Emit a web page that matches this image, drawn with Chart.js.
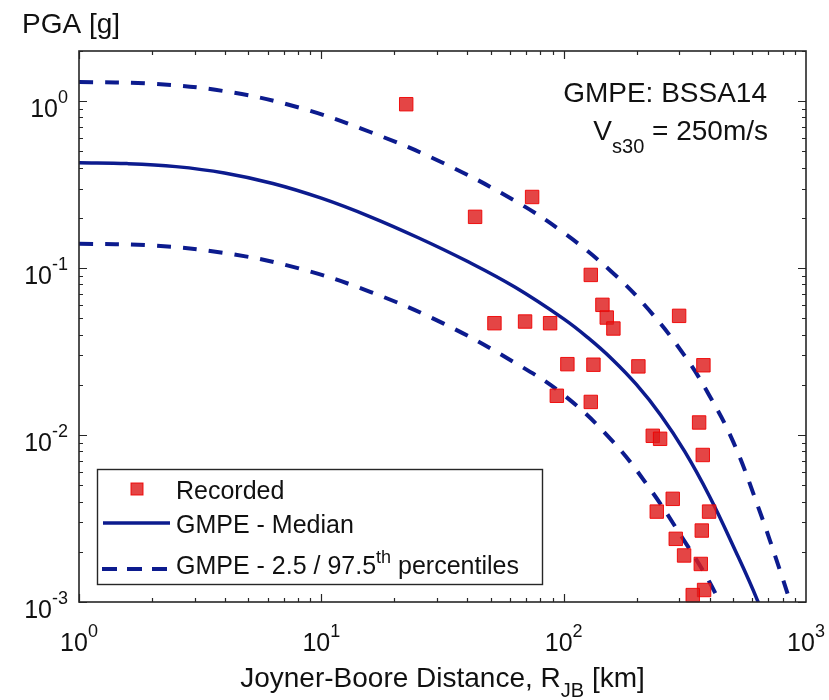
<!DOCTYPE html>
<html>
<head>
<meta charset="utf-8">
<script src="https://cdn.jsdelivr.net/npm/chart.js@4.4.1/dist/chart.umd.min.js"></script>
<style>
  html, body { margin: 0; padding: 0; background: #ffffff; }
  #wrap { width: 829px; height: 700px; }
</style>
</head>
<body>
<div id="wrap"><canvas id="chart" width="829" height="700"></canvas></div>
<script>
// ---------------- DATA ----------------
const recordedDistance = [22.4, 74.1, 43.1, 51.8, 69.3, 87.9, 103.6, 93.7, 129.4, 144.5,
  150.6, 160.4, 299.5, 132.7, 203.4, 377.3, 129.4, 362.2, 233.2, 250,
  375, 281.9, 242.2, 398.2, 371.5, 290.1, 314, 368, 379.7, 340.9];
const recordedPGA = [0.96, 0.267, 0.203, 0.0468, 0.0479, 0.0468, 0.0266, 0.0172, 0.0911, 0.0603,
  0.0506, 0.0435, 0.0518, 0.0264, 0.0258, 0.0262, 0.0158, 0.0119, 0.0099, 0.0095,
  0.0076, 0.00415, 0.00348, 0.00348, 0.00268, 0.00239, 0.0019, 0.00169, 0.00118, 0.0011];

const medianDistance = [1, 1.585, 2.512, 3.981, 6.31, 10, 15.85, 25.12, 39.81, 63.1,
  100, 125.9, 158.5, 199.5, 251.2, 316.2, 398.1, 501.2, 631, 794.3];
const medianPGA = [0.428, 0.423, 0.4058, 0.3719, 0.3217, 0.2627, 0.2039, 0.1522, 0.1103, 0.0768,
  0.0497, 0.03836, 0.0285, 0.02011, 0.01321, 0.00796, 0.00435, 0.00216, 0.00102, 0.00042];

const upperDistance = [1, 2, 4, 8, 16, 32, 63, 100, 158, 224, 316, 398, 501, 631, 794, 891];
const upperPGA = [1.305, 1.274, 1.148, 0.921, 0.652, 0.425, 0.253, 0.163, 0.0949, 0.0565, 0.0298, 0.0174, 0.0091, 0.0038, 0.00144, 0.00085];

const lowerDistance = [1, 2, 4, 8, 16, 32, 63, 100, 158, 224, 316, 398, 501];
const lowerPGA = [0.14, 0.1367, 0.1232, 0.1001, 0.0719, 0.0465, 0.0271, 0.0174, 0.0093, 0.0049, 0.0023, 0.00133, 0.00068];

const xTickValues = [1, 10, 100, 1000];
const xTickExponents = ['0', '1', '2', '3'];
const yTickValues = [0.001, 0.01, 0.1, 1];
const yTickExponents = ['-3', '-2', '-1', '0'];
const tickBase = '10';

const yAxisTitle = 'PGA [g]';
const xAxisTitleParts = ['Joyner-Boore Distance, R', 'JB', ' [km]'];
const annotationLine1 = 'GMPE: BSSA14';
const annotationLine2Parts = ['V', 's30', ' = 250m/s'];
const legendLabels = ['Recorded', 'GMPE - Median', 'GMPE - 2.5 / 97.5', 'th', ' percentiles'];

// ---------------- STYLE ----------------
const BLUE = '#0c1b8e';
const RED_FILL = 'rgba(222, 28, 28, 0.82)';
const RED_EDGE = 'rgba(240, 0, 0, 0.9)';
const AXIS = '#262626';
const TEXT = '#111111';
const FONT = '"Liberation Sans", Arial, Helvetica, sans-serif';
const DASH = [14, 12];

const toXY = (xs, ys) => xs.map((x, i) => ({ x: x, y: ys[i] }));

function segWidth(ctx, s, size) {
  ctx.font = size + 'px ' + FONT;
  return ctx.measureText(s).width;
}
function drawRich(ctx, segs, x, y, align) {
  const total = segs.reduce((a, s) => a + segWidth(ctx, s[0], s[1]), 0);
  let cx = align === 'right' ? x - total : (align === 'center' ? x - total / 2 : x);
  for (const [t, size, dy] of segs) {
    ctx.save();
    ctx.font = size + 'px ' + FONT;
    ctx.fillStyle = TEXT;
    ctx.textAlign = 'left';
    ctx.textBaseline = 'alphabetic';
    ctx.fillText(t, cx, y + dy);
    ctx.restore();
    cx += segWidth(ctx, t, size);
  }
}

const decor = {
  id: 'decor',
  beforeDraw(chart) {
    const ctx = chart.ctx;
    ctx.save();
    ctx.fillStyle = '#ffffff';
    ctx.fillRect(0, 0, chart.width, chart.height);
    ctx.restore();
  },
  afterDraw(chart) {
    const ctx = chart.ctx;
    const a = chart.chartArea;
    const xs = chart.scales.x, ys = chart.scales.y;
    ctx.save();
    // ---- ticks (inside, all four sides) ----
    ctx.strokeStyle = AXIS;
    ctx.lineWidth = 1.2;
    ctx.beginPath();
    for (let d = 0; d < 3; d++) {
      for (let m = 1; m <= 9; m++) {
        const v = Math.pow(10, d) * m;
        const px = Math.round(xs.getPixelForValue(v)) + 0.5;
        const len = m === 1 ? 8 : 4;
        ctx.moveTo(px, a.bottom); ctx.lineTo(px, a.bottom - len);
        ctx.moveTo(px, a.top); ctx.lineTo(px, a.top + len);
      }
    }
    for (let d = -3; d <= 0; d++) {
      for (let m = 1; m <= 9; m++) {
        const v = Math.pow(10, d) * m;
        if (v > ys.max) continue;
        const py = Math.round(ys.getPixelForValue(v)) + 0.5;
        const len = m === 1 ? 8 : 4;
        ctx.moveTo(a.left, py); ctx.lineTo(a.left + len, py);
        ctx.moveTo(a.right, py); ctx.lineTo(a.right - len, py);
      }
    }
    ctx.stroke();
    // ---- box ----
    ctx.lineWidth = 1.6;
    ctx.strokeRect(a.left, a.top, a.right - a.left, a.bottom - a.top);

    // ---- tick labels ----
    xTickValues.forEach((v, i) => {
      const px = xs.getPixelForValue(v);
      drawRich(ctx, [[tickBase, 25, 0], [xTickExponents[i], 18, -14]], px, a.bottom + 49, 'center');
    });
    yTickValues.forEach((v, i) => {
      const py = ys.getPixelForValue(v);
      drawRich(ctx, [[tickBase, 25, 0], [yTickExponents[i], 18, -14]], a.left - 11, py + 16, 'right');
    });

    // ---- axis titles ----
    drawRich(ctx, [[yAxisTitle, 28, 0]], 22, 33, 'left');
    drawRich(ctx, [[xAxisTitleParts[0], 28, 0], [xAxisTitleParts[1], 20, 10], [xAxisTitleParts[2], 28, 0]],
      (a.left + a.right) / 2, 687, 'center');

    // ---- annotation ----
    drawRich(ctx, [[annotationLine1, 28, 0]], 767, 102, 'right');
    drawRich(ctx, [[annotationLine2Parts[0], 28, 0], [annotationLine2Parts[1], 20, 13], [annotationLine2Parts[2], 28, 0]],
      768, 140, 'right');

    // ---- legend ----
    const L = { x: 97, y: 469, w: 445, h: 115 };
    ctx.fillStyle = '#ffffff';
    ctx.fillRect(L.x, L.y, L.w, L.h);
    ctx.strokeStyle = AXIS;
    ctx.lineWidth = 1.4;
    ctx.strokeRect(L.x + 0.5, L.y + 0.5, L.w, L.h);
    // marker
    ctx.fillStyle = RED_FILL;
    ctx.strokeStyle = RED_EDGE;
    ctx.lineWidth = 1;
    ctx.fillRect(131, 483, 12, 12);
    ctx.strokeRect(131, 483, 12, 12);
    // solid sample
    ctx.strokeStyle = BLUE;
    ctx.lineWidth = 3.5;
    ctx.beginPath(); ctx.moveTo(103, 523); ctx.lineTo(170, 523); ctx.stroke();
    // dashed sample
    ctx.lineWidth = 4;
    ctx.setLineDash([15, 10]);
    ctx.beginPath(); ctx.moveTo(102, 569); ctx.lineTo(170, 569); ctx.stroke();
    ctx.setLineDash([]);
    drawRich(ctx, [[legendLabels[0], 25, 0]], 176, 499, 'left');
    drawRich(ctx, [[legendLabels[1], 25, 0]], 176, 533, 'left');
    drawRich(ctx, [[legendLabels[2], 25, 0], [legendLabels[3], 18, -11], [legendLabels[4], 25, 0]], 176, 574, 'left');
    ctx.restore();
  }
};

const curveStyle = {
  showLine: true,
  borderColor: BLUE,
  pointRadius: 0,
  tension: 0.4,
  cubicInterpolationMode: 'default',
  fill: false,
  order: 1
};

new Chart(document.getElementById('chart').getContext('2d'), {
  type: 'scatter',
  data: {
    datasets: [
      {
        label: 'Recorded',
        data: toXY(recordedDistance, recordedPGA),
        pointStyle: 'rect',
        pointRadius: 9.5,
        pointHoverRadius: 9.5,
        backgroundColor: RED_FILL,
        borderColor: RED_EDGE,
        borderWidth: 1,
        showLine: false,
        clip: false,
        order: 0
      },
      Object.assign({}, curveStyle, {
        label: 'GMPE - Median',
        data: toXY(medianDistance, medianPGA),
        borderWidth: 3.5
      }),
      Object.assign({}, curveStyle, {
        label: 'GMPE - 97.5th percentile',
        data: toXY(upperDistance, upperPGA),
        borderWidth: 4,
        borderDash: DASH
      }),
      Object.assign({}, curveStyle, {
        label: 'GMPE - 2.5th percentile',
        data: toXY(lowerDistance, lowerPGA),
        borderWidth: 4,
        borderDash: DASH
      })
    ]
  },
  options: {
    responsive: false,
    animation: false,
    devicePixelRatio: 1,
    layout: { padding: { left: 79, right: 23, top: 51, bottom: 98 } },
    scales: {
      x: { type: 'logarithmic', min: 1, max: 1000, display: false },
      y: { type: 'logarithmic', min: 0.001, max: 2, display: false }
    },
    plugins: {
      legend: { display: false },
      tooltip: { enabled: false }
    }
  },
  plugins: [decor]
});
</script>
</body>
</html>
